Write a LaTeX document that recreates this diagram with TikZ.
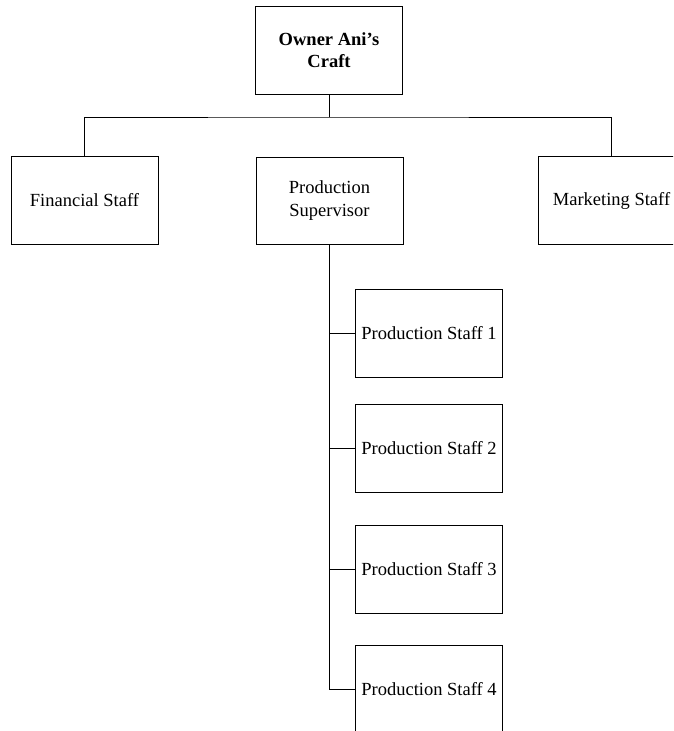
\documentclass[tikz,border=0pt]{standalone}
\usepackage{fontspec}
\setmainfont{Liberation Serif}
\begin{document}
\begin{tikzpicture}[x=1pt,y=-1pt,
  orgbox/.style={draw=black,line width=1pt,fill=white,minimum width=147pt,minimum height=88pt,inner sep=2pt,align=center,font=\fontsize{18.5}{22.5}\selectfont},
  conn/.style={draw=black,line width=1pt}]
\useasboundingbox (0,0) rectangle (673,731);
\clip (0,0) rectangle (673,731);
\node[orgbox,font=\fontsize{18.5}{22.5}\selectfont\bfseries] (top) at (329,50) {Owner Ani’s\\Craft};
\node[orgbox] (fin) at (84.5,200.5) {Financial Staff};
\node[orgbox,minimum height=87pt] (sup) at (329.5,200.5) {Production\\Supervisor};
\node[orgbox] (mkt) at (611.5,200.5) {Marketing Staff};
\node[orgbox] (s1) at (429,333) {Production Staff 1};
\node[orgbox] (s2) at (429,448) {Production Staff 2};
\node[orgbox] (s3) at (429,569) {Production Staff 3};
\node[orgbox] (s4) at (429,689) {Production Staff 4};
\coordinate (bus) at (329,117);
\draw[conn] (top.south) -- (bus);
\draw[conn] (fin.north) |- (bus) -| (mkt.north);
\draw[conn] (sup.south) |- (s4.west);
\draw[conn] (s1.west) -- (s1.west -| sup.south);
\draw[conn] (s2.west) -- (s2.west -| sup.south);
\draw[conn] (s3.west) -- (s3.west -| sup.south);
\end{tikzpicture}
\end{document}
